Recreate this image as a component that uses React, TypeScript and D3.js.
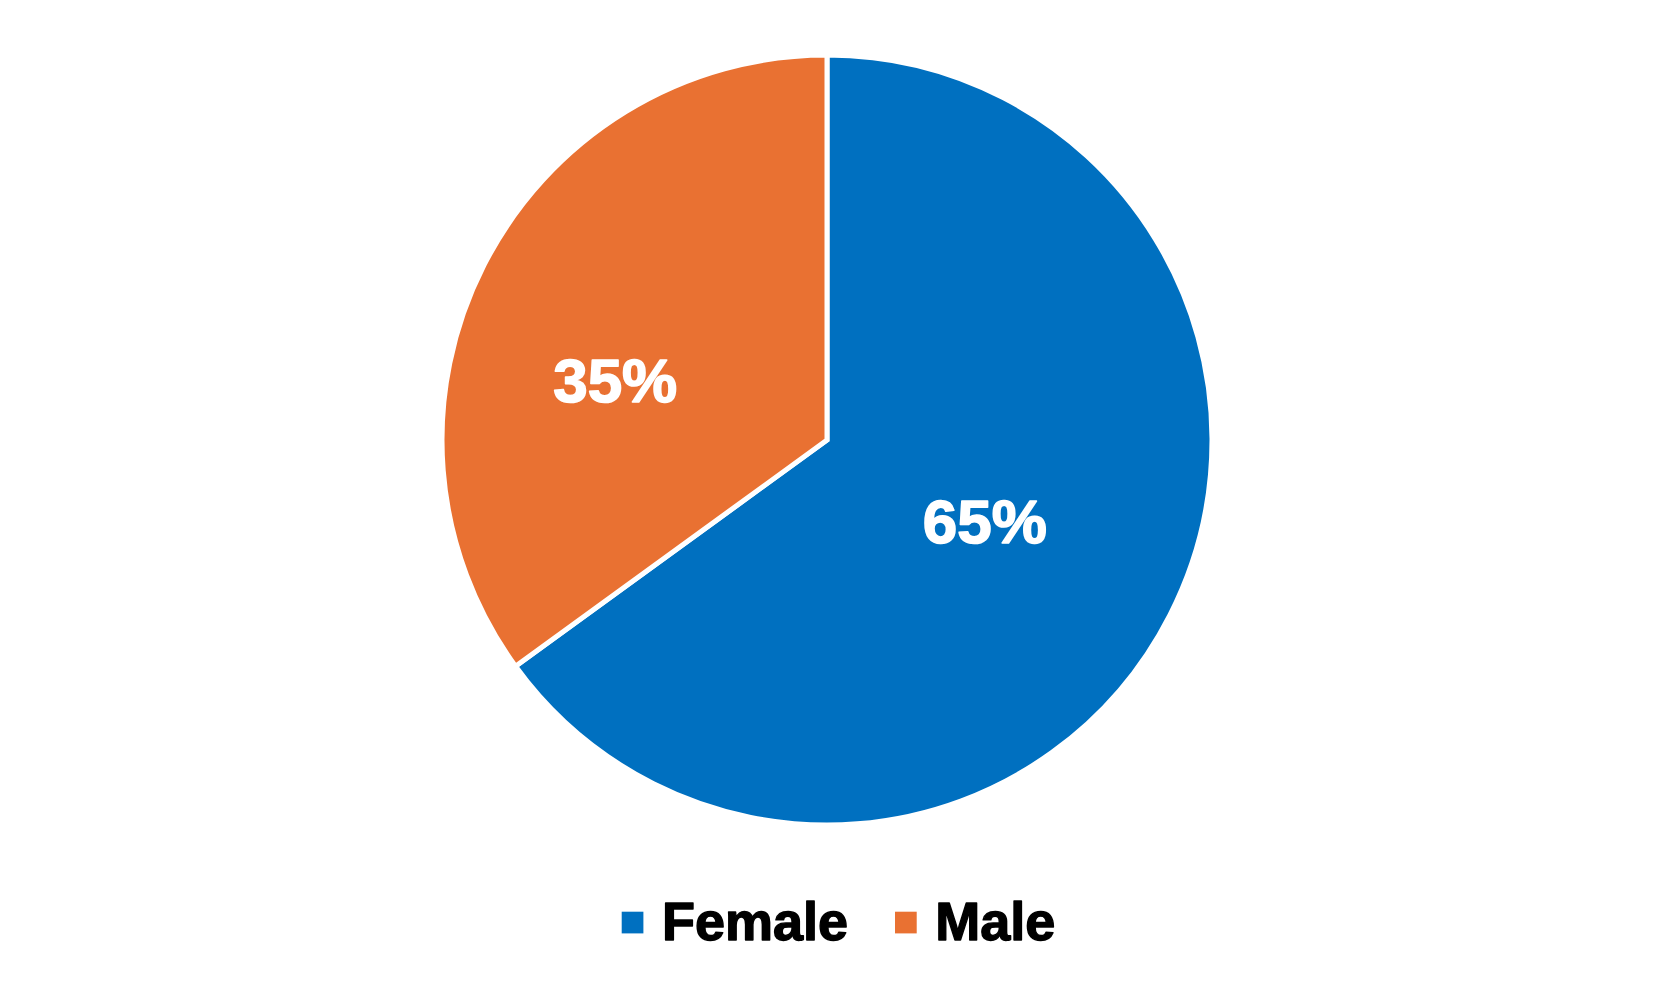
import React, { useEffect, useRef } from 'react';
import * as d3 from 'd3';

const categories = ['Female', 'Male'];
const shares = [65, 35];
const sliceColors = ['#0070C0', '#E97132'];

// where the inside labels sit, as fraction of radius + angle nudge (deg)
const labelPlacement = [
  { frac: 0.46, shift: 0 },
  { frac: 0.572, shift: -11.1 },
];

export default function App() {
  const svgRef = useRef<SVGSVGElement>(null);

  useEffect(() => {
    document.body.style.margin = '0';
    if (!svgRef.current) return;
    const root = d3.select(svgRef.current);
    root.selectAll('*').remove();

    const width = 1659;
    const height = 999;
    const cx = 827;
    const cy = 440;
    const radius = 385;
    const font = 'Arial, "Liberation Sans", sans-serif';

    const data = categories.map((c, i) => ({ name: c, value: shares[i], color: sliceColors[i] }));

    const pie = d3
      .pie<(typeof data)[0]>()
      .sort(null)
      .value((d) => d.value);
    const arcs = pie(data);

    const arc = d3.arc<d3.PieArcDatum<(typeof data)[0]>>().innerRadius(0).outerRadius(radius);

    const g = root.append('g').attr('transform', `translate(${cx},${cy})`);

    g.selectAll('path.slice')
      .data(arcs)
      .enter()
      .append('path')
      .attr('class', 'slice')
      .attr('d', arc)
      .attr('fill', (d) => d.data.color)
      .attr('stroke', '#fff')
      .attr('stroke-width', 5)
      .attr('stroke-linejoin', 'miter');

    // percentage labels
    const total = d3.sum(shares);
    g.selectAll('text.pct')
      .data(arcs)
      .enter()
      .append('text')
      .attr('class', 'pct')
      .attr('transform', (d, i) => {
        const p = labelPlacement[i];
        const a = (d.startAngle + d.endAngle) / 2 + (p.shift * Math.PI) / 180;
        const r = radius * p.frac;
        return `translate(${Math.sin(a) * r},${-Math.cos(a) * r + 22.5})`;
      })
      .attr('text-anchor', 'middle')
      .attr('font-family', font)
      .attr('font-weight', 700)
      .attr('font-size', 62)
      .attr('fill', '#fff')
      .attr('stroke', '#fff')
      .attr('stroke-width', 1.6)
      .attr('stroke-linejoin', 'round')
      .text((d) => `${Math.round((d.data.value / total) * 100)}%`);

    // legend
    const legendY = 940;
    const sq = 21.7;
    const legend = root.append('g');
    let x = 621.7;
    data.forEach((d) => {
      legend
        .append('rect')
        .attr('x', x)
        .attr('y', legendY - 28.3)
        .attr('width', sq)
        .attr('height', sq)
        .attr('fill', d.color);
      const t = legend
        .append('text')
        .attr('x', x + sq + 18.5)
        .attr('y', legendY)
        .attr('font-family', font)
        .attr('font-weight', 700)
        .attr('font-size', 54)
        .attr('fill', '#000')
        .attr('stroke', '#000')
        .attr('stroke-width', 1.4)
        .attr('stroke-linejoin', 'round')
        .text(d.name);
      const w = (t.node() as SVGTextElement).getComputedTextLength();
      x = x + sq + 18.5 + w + 47;
    });

    root.attr('width', width).attr('height', height);
  }, []);

  return <svg ref={svgRef} width={1659} height={999} style={{ display: 'block', background: '#fff' }} />;
}
